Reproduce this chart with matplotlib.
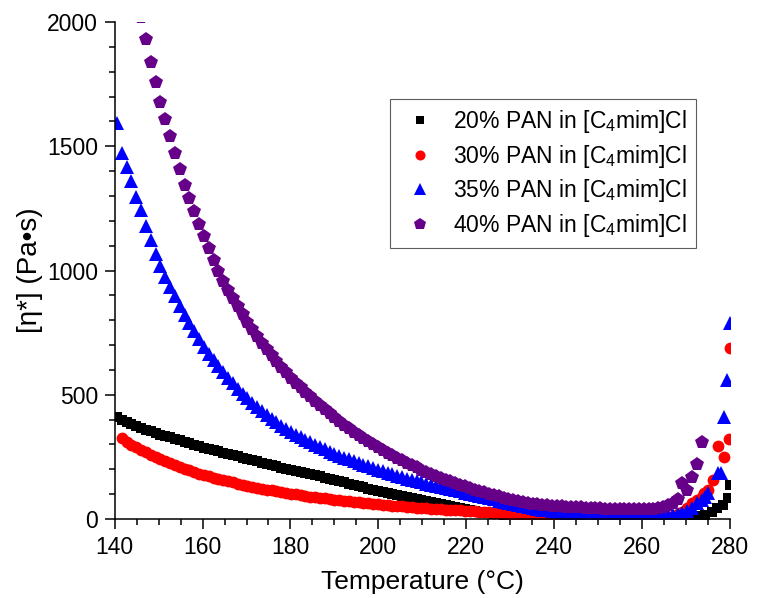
import numpy as np
import matplotlib
matplotlib.use("Agg")
import matplotlib.pyplot as plt
from matplotlib.ticker import MultipleLocator

plt.rcParams['font.family'] = ['Liberation Sans', 'DejaVu Sans']
plt.rcParams['mathtext.fontset'] = 'custom'
plt.rcParams['mathtext.rm'] = 'Liberation Sans'
plt.rcParams['mathtext.default'] = 'regular'

# shared temperature sweep (deg C)
temp = [140.5, 141.6, 142.7, 143.8, 144.9, 146.0, 147.1, 148.2, 149.3, 150.4,
        151.5, 152.6, 153.7, 154.8, 155.9, 157.0, 158.1, 159.2, 160.3, 161.4,
        162.5, 163.6, 164.7, 165.8, 166.9, 168.0, 169.1, 170.2, 171.3, 172.4,
        173.5, 174.6, 175.7, 176.8, 177.9, 179.0, 180.1, 181.2, 182.3, 183.4,
        184.5, 185.6, 186.7, 187.8, 188.9, 190.0, 191.1, 192.2, 193.3, 194.4,
        195.5, 196.6, 197.7, 198.8, 199.9, 201.0, 202.1, 203.2, 204.3, 205.4,
        206.5, 207.6, 208.7, 209.8, 210.9, 212.0, 213.1, 214.2, 215.3, 216.4,
        217.5, 218.6, 219.7, 220.8, 221.9, 223.0, 224.1, 225.2, 226.3, 227.4,
        228.5, 229.6, 230.7, 231.8, 232.9, 234.0, 235.1, 236.2, 237.3, 238.4,
        239.5, 240.6, 241.7, 242.8, 243.9, 245.0, 246.1, 247.2, 248.3, 249.4,
        250.5, 251.6, 252.7, 253.8, 254.9, 256.0, 257.1, 258.2, 259.3, 260.4,
        261.5, 262.6, 263.7, 264.8, 265.9, 267.0, 268.1, 269.2, 270.3, 271.4,
        272.5, 273.6]

eta_20 = [410, 398, 390, 382, 374, 367, 360, 353, 346, 340,
          334, 328, 322, 316, 310, 304, 298, 292, 287, 282,
          277, 272, 267, 262, 257, 252, 247, 242, 237, 232,
          227, 222, 217, 212, 207, 202, 198, 194, 190, 186,
          181, 177, 172, 167, 162, 157, 152, 147, 142, 137,
          132, 127, 122, 117, 112, 108, 104, 100, 96, 92,
          88, 84, 80, 77, 74, 70, 66, 62, 58, 54,
          49, 45, 40, 36, 33, 30, 27, 24, 22, 20,
          18, 16, 15, 14, 13, 12, 11, 10, 10, 9,
          9, 8, 8, 8, 7, 7, 7, 7, 6, 6,
          6, 6, 6, 5, 5, 5, 5, 5, 5, 5,
          5, 5, 5, 5, 5, 6, 6, 7, 8, 9,
          10, 12]

eta_30 = [np.nan, 325, 311, 299, 288, 278, 268, 259, 250, 241,
          233, 225, 217, 210, 203, 196, 189, 183, 177, 172,
          166, 161, 156, 151, 147, 142, 138, 134, 130, 126,
          122, 118, 115, 111, 108, 105, 102, 99, 96, 93,
          90, 88, 85, 83, 80, 78, 76, 73, 71, 69,
          67, 65, 63, 61, 59, 57, 56, 54, 52, 51,
          49, 48, 46, 45, 43, 42, 41, 39, 38, 37,
          36, 35, 33, 32, 31, 30, 29, 27, 26, 25,
          23, 22, 21, 19, 18, 17, 16, 15, 14, 13,
          12, 11, 11, 10, 10, 9, 9, 8, 8, 8,
          7, 7, 7, 6, 6, 6, 6, 5, 5, 5,
          5, 6, 6, 8, 10, 14, 20, 30, 45, 63,
          75, 90]

eta_35 = [1592, 1472, 1418, 1360, 1297, 1243, 1179, 1123, 1066, 1018,
          975, 935, 896, 858, 822, 788, 755, 724, 694, 666,
          640, 615, 591, 568, 546, 525, 505, 486, 468, 451,
          435, 419, 404, 390, 376, 363, 351, 340, 329, 318,
          308, 298, 289, 280, 271, 263, 255, 247, 240, 233,
          226, 219, 212, 205, 198, 192, 186, 180, 174, 168,
          162, 157, 152, 147, 142, 138, 133, 129, 124, 120,
          115, 111, 106, 102, 97, 92, 88, 83, 79, 74,
          70, 65, 61, 57, 53, 49, 45, 41, 38, 35,
          32, 29, 27, 25, 23, 21, 20, 18, 17, 16,
          15, 14, 14, 13, 13, 12, 12, 12, 12, 12,
          12, 12, 13, 14, 15, 17, 20, 24, 32, 43,
          63, 75]

eta_40 = [2560, 2440, 2320, 2210, 2110, 2020, 1930, 1840, 1760, 1680,
          1610, 1540, 1472, 1408, 1345, 1290, 1238, 1186, 1137, 1090,
          1044, 1000, 958, 923, 889, 856, 824, 794, 765, 737,
          710, 684, 659, 635, 612, 590, 569, 549, 530, 511,
          493, 475, 458, 442, 426, 410, 394, 379, 365, 351,
          338, 325, 313, 301, 290, 278, 267, 256, 246, 236,
          226, 217, 208, 199, 191, 183, 174, 166, 158, 151,
          144, 137, 131, 124, 118, 113, 107, 101, 96, 91,
          86, 81, 77, 72, 68, 65, 62, 59, 57, 55,
          53, 52, 51, 50, 49, 48, 47, 46, 45, 44,
          43, 42, 41, 41, 40, 40, 39, 39, 39, 40,
          40, 42, 44, 48, 55, 64, 80, 143, 117, 170,
          220, 311]

# last points near 280 C, sampled more densely
temp_tail_20 = [274.3, 275.9, 277.0, 278.4, 279.6, 280.1]
eta_tail_20 = [16, 29, 43, 56, 83, 137]
temp_tail_30 = [274.0, 275.1, 276.2, 277.4, 278.7, 279.8, 280.1]
eta_tail_30 = [103, 117, 157, 294, 251, 321, 687]
temp_tail_35 = [274.3, 275.1, 277.4, 277.9, 278.7, 279.4, 280.0]
eta_tail_35 = [90, 103, 184, 184, 409, 559, 787]

labels = [r'20% PAN in [C$_4$mim]Cl', r'30% PAN in [C$_4$mim]Cl',
          r'35% PAN in [C$_4$mim]Cl', r'40% PAN in [C$_4$mim]Cl']
colors = ['#000000', '#ff0000', '#0000ff', '#660088']
markers = ['s', 'o', '^', 'p']
msizes = [7, 8.5, 9.5, 10.5]

fig = plt.figure(figsize=(7.61, 5.98), dpi=100)
ax = fig.add_axes([0.1507, 0.1321, 0.8084, 0.8311])

series = [
    (temp + temp_tail_20, eta_20 + eta_tail_20),
    (temp + temp_tail_30, eta_30 + eta_tail_30),
    (temp + temp_tail_35, eta_35 + eta_tail_35),
    (temp, eta_40),
]
for (x, y), lab, c, m, s in zip(series, labels, colors, markers, msizes):
    ax.plot(x, y, linestyle='none', marker=m, markersize=s, color=c,
            markeredgewidth=0, label=lab)

ax.set_xlim(140, 280)
ax.set_ylim(0, 2000)
ax.xaxis.set_major_locator(MultipleLocator(20))
ax.xaxis.set_minor_locator(MultipleLocator(5))
ax.yaxis.set_major_locator(MultipleLocator(500))
ax.yaxis.set_minor_locator(MultipleLocator(100))
ax.tick_params(which='major', direction='out', length=7, width=1.1,
               labelsize=16.5, pad=5)
ax.tick_params(which='minor', direction='out', length=4, width=1.1)
for side in ['top', 'right']:
    ax.spines[side].set_visible(False)
for side in ['left', 'bottom']:
    ax.spines[side].set_linewidth(1.1)

ax.set_xlabel('Temperature (°C)', fontsize=19, labelpad=8)
ax.set_ylabel('[η*] (Pa•s)', fontsize=20, labelpad=3)

leg = ax.legend(loc='upper left', bbox_to_anchor=(390 / 761, 1 - 99 / 598),
                bbox_transform=fig.transFigure, fontsize=16.5, frameon=True,
                fancybox=False, edgecolor='#333333', handlelength=1.8,
                handletextpad=0.55, labelspacing=0.33, borderpad=0.4,
                borderaxespad=0, markerscale=0.85)
leg.get_frame().set_linewidth(0.8)

fig.savefig('out.png', dpi=100)
